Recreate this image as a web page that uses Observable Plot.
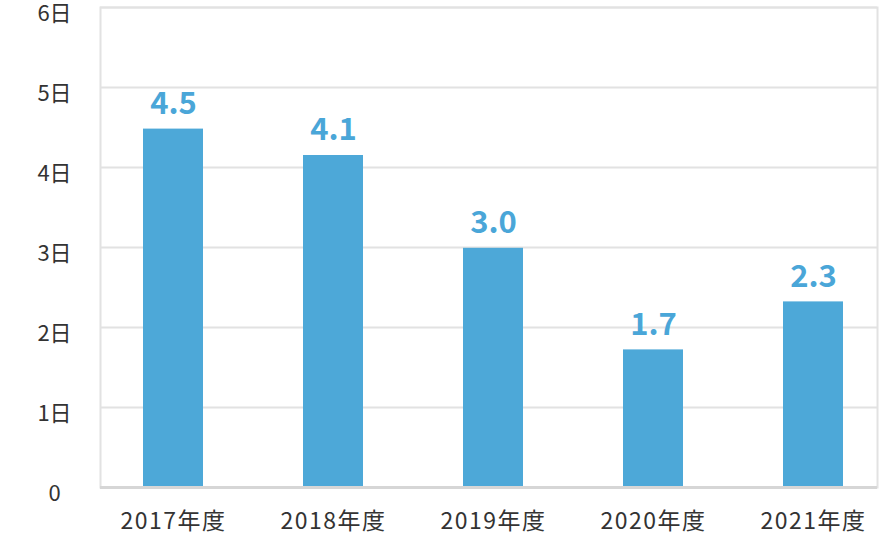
<!DOCTYPE html>
<html>
<head>
<meta charset="utf-8">
<script src="https://cdn.jsdelivr.net/npm/d3@7"></script>
<script src="https://cdn.jsdelivr.net/npm/@observablehq/plot@0.6"></script>
<style>
  html, body { margin: 0; padding: 0; background: #fff; }
  #chart svg { display: block; }
  #chart g[aria-label="x-axis tick label"] text { letter-spacing: 1.5px; }
</style>
</head>
<body>
<div id="chart"></div>
<script>
const years = ["2017年度", "2018年度", "2019年度", "2020年度", "2021年度"];
const values = [4.48, 4.15, 2.99, 1.72, 2.32];
const valueLabels = ["4.5", "4.1", "3.0", "1.7", "2.3"];
const yTicks = [0, 1, 2, 3, 4, 5, 6];
const yTickLabels = ["0", "1日", "2日", "3日", "4日", "5日", "6日"];

const data = years.map((y, i) => ({year: y, value: values[i], label: valueLabels[i]}));
const font = "'Noto Sans CJK JP', 'Noto Sans', sans-serif";

const chart = Plot.plot({
  width: 880,
  height: 536,
  marginTop: 7,
  marginBottom: 49,
  marginLeft: 100,
  marginRight: 3,
  style: {fontFamily: font, background: "#fff"},
  x: {domain: years, range: [93, 893], paddingInner: 0.625, paddingOuter: 0.3125, align: 0.5, label: null},
  y: {domain: [0, 6], label: null},
  marks: [
    Plot.gridY(yTicks, {stroke: "#e2e2e2", strokeOpacity: 1, strokeWidth: 2}),
    Plot.frame({stroke: "#e2e2e2", strokeWidth: 2}),
    Plot.barY(data, {x: "year", y: "value", fill: "#4da8d8"}),
    Plot.ruleY([0], {stroke: "#d6d6d6", strokeWidth: 3}),
    Plot.text(data, {x: "year", y: "value", text: "label", dy: -25, fill: "#4aa6d8", fontSize: 31, fontWeight: "bold"}),
    Plot.axisY(yTicks, {tickSize: 0, tickPadding: 46, textAnchor: "middle", dy: 6, fontSize: 22, fill: "#333", label: null,
      tickFormat: (d) => yTickLabels[yTicks.indexOf(d)]}),
    Plot.axisX({tickSize: 0, tickPadding: 25, fontSize: 23, fill: "#333", label: null})
  ]
});
document.getElementById("chart").appendChild(chart);
</script>
</body>
</html>
